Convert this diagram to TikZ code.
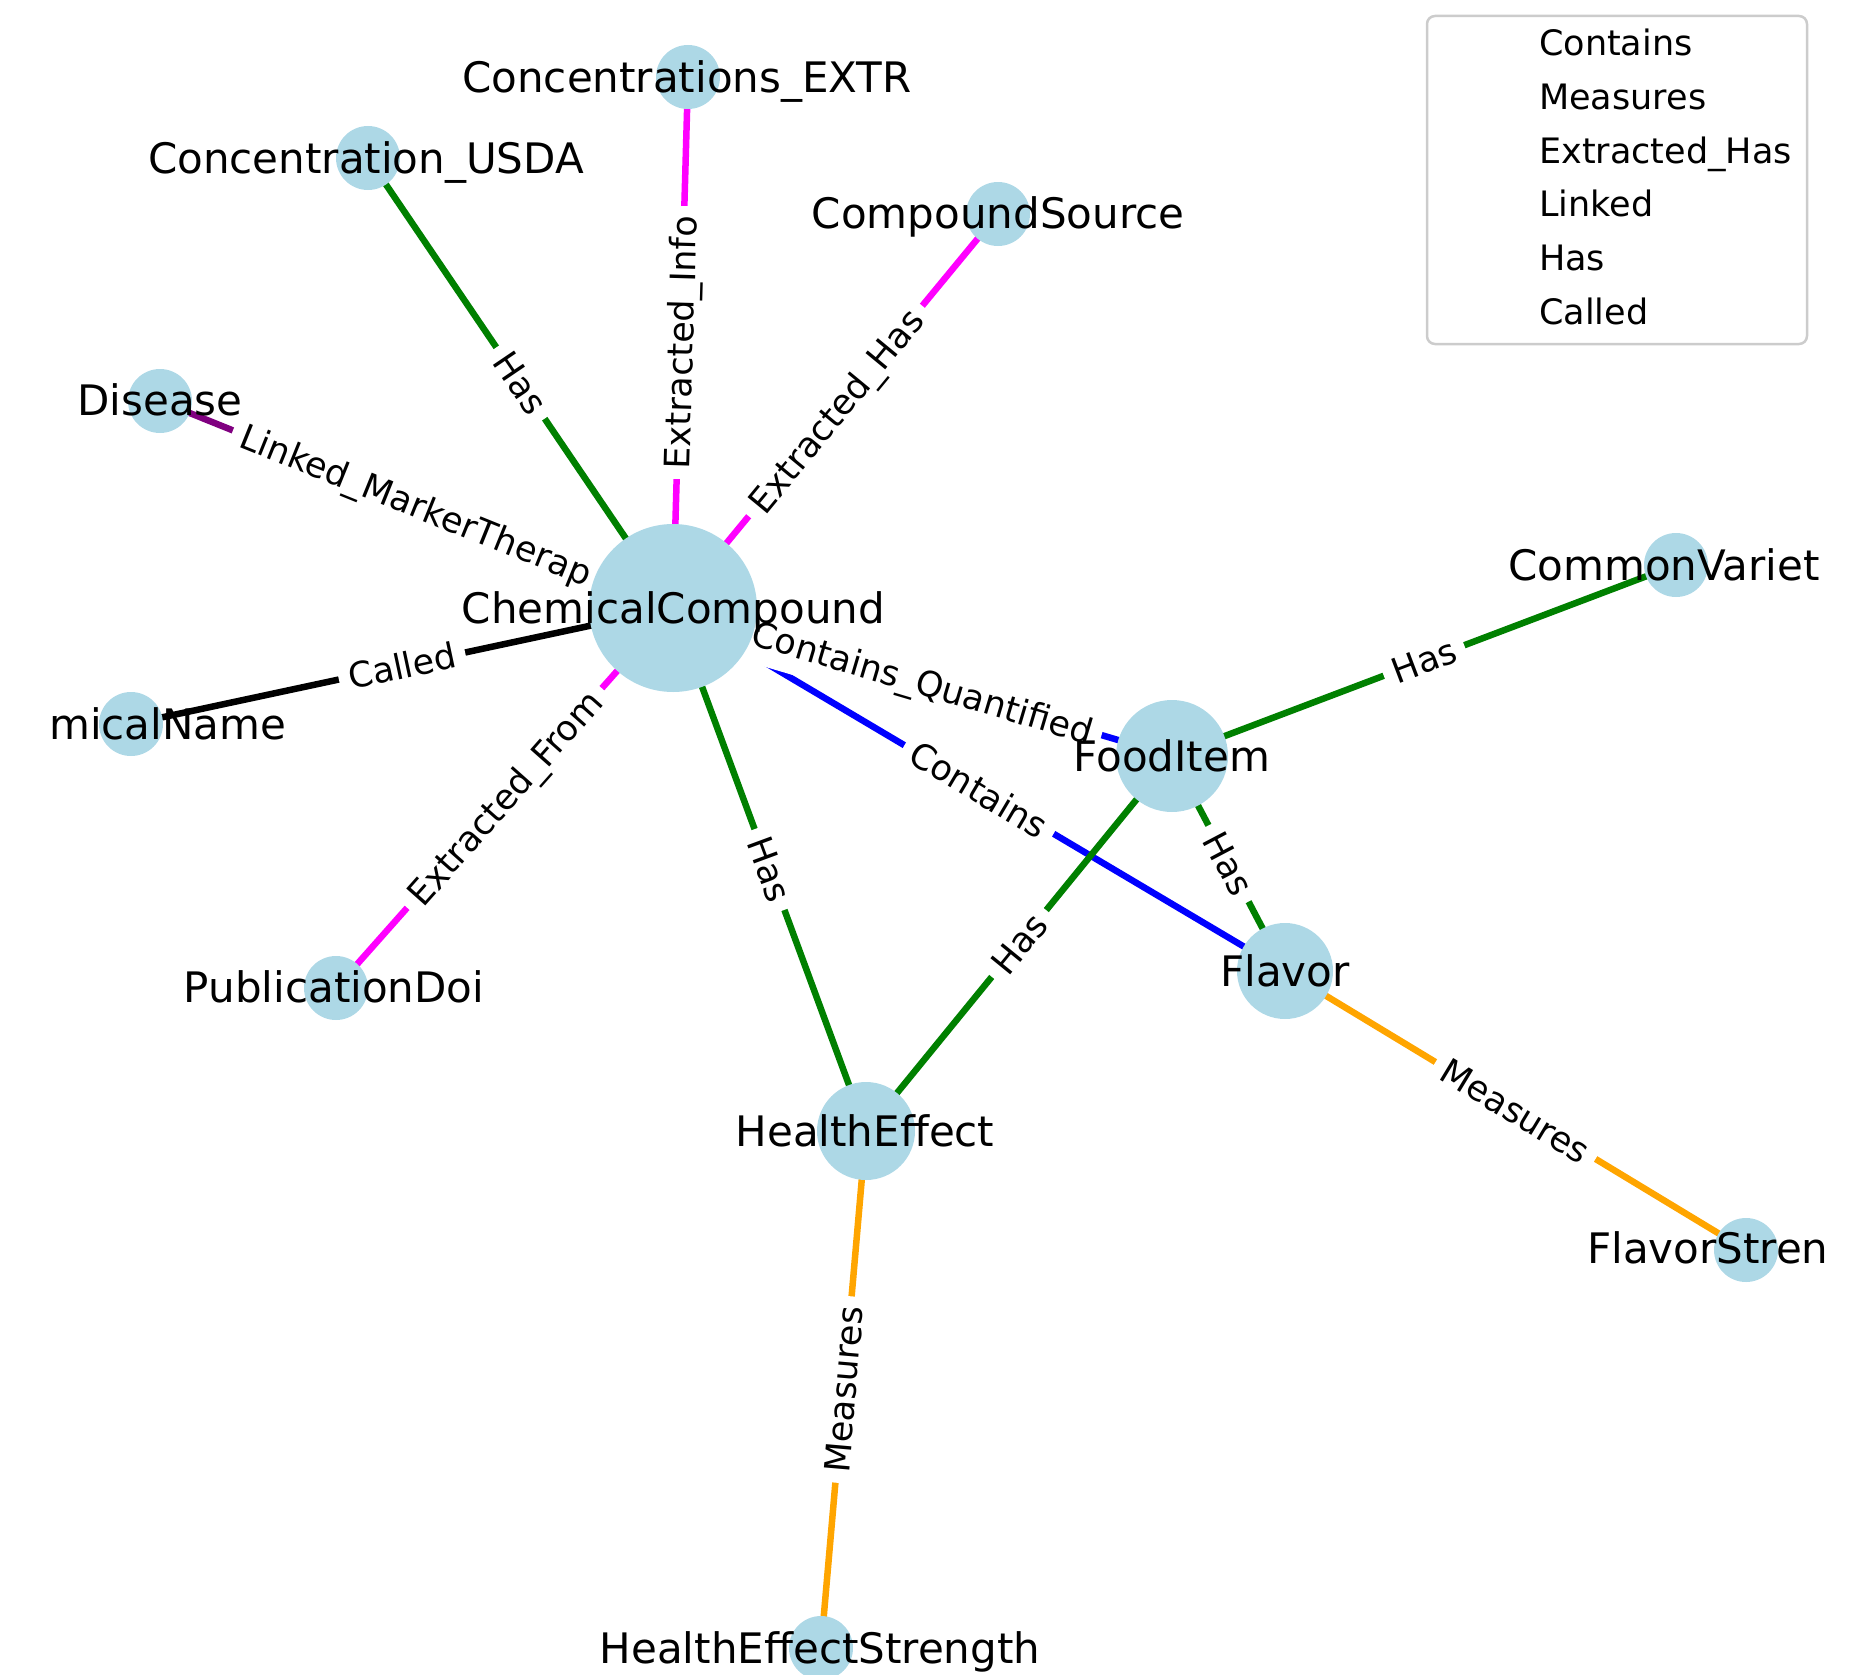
\documentclass[tikz,border=0pt]{standalone}
\usepackage{fontspec}
\setmainfont{DejaVu Sans}
\definecolor{nodeblue}{HTML}{ADD8E6}
\definecolor{relgreen}{HTML}{008000}
\definecolor{relmagenta}{HTML}{FF00FF}
\definecolor{relpurple}{HTML}{800080}
\definecolor{relblue}{HTML}{0000FF}
\definecolor{relorange}{HTML}{FFA500}
\definecolor{legendframe}{HTML}{CCCCCC}
\pgfdeclarelayer{edges}
\pgfdeclarelayer{edgelabels}
\pgfsetlayers{edges,edgelabels,main}
\begin{document}
\begin{tikzpicture}[x=1pt,y=-1pt,
  vtx/.style={circle,fill=nodeblue,draw=none,inner sep=0pt,minimum size=#1},
  nlabel/.style={font=\fontsize{42}{50}\selectfont,inner sep=0pt,
    text height=40.7pt,text depth=10.1pt},
  link/.style={line width=6.5pt},
  elabel/.style={font=\fontsize{35}{42}\selectfont,fill=white,
    rounded corners=9pt,inner xsep=10pt,inner ysep=9pt,
    text height=34pt,text depth=8.4pt,sloped,midway},
  legtext/.style={font=\fontsize{35}{42}\selectfont,anchor=west,
    inner sep=0pt,text height=25.5pt,text depth=0pt}
]
\useasboundingbox (0,0) rectangle (1850,1675);

% vertices
\node[vtx=168] (cc)   at (673,608)  {};
\node[vtx=64]  (extr) at (688,77)   {};
\node[vtx=64]  (usda) at (368,158)  {};
\node[vtx=64]  (src)  at (998,214)  {};
\node[vtx=64]  (dis)  at (160,401)  {};
\node[vtx=64]  (name) at (131,724)  {};
\node[vtx=64]  (doi)  at (336,988)  {};
\node[vtx=98]  (he)   at (866,1131) {};
\node[vtx=64]  (hes)  at (821,1648) {};
\node[vtx=112] (food) at (1172,756) {};
\node[vtx=96]  (flav) at (1285,971) {};
\node[vtx=64]  (var)  at (1676,565) {};
\node[vtx=64]  (fstr) at (1746,1250) {};

% vertex names
\node[nlabel] (cc-t)   at (673.5,608) {ChemicalCompound};
\node[nlabel] (extr-t) at (687,77)    {Concentrations\_EXTR};
\node[nlabel] (usda-t) at (366,158)   {Concentration\_USDA};
\node[nlabel] (src-t)  at (998,213)   {CompoundSource};
\node[nlabel] (dis-t)  at (160,400)   {Disease};
\node[nlabel,anchor=west] (name-t) at (49,724) {micalName};
\node[nlabel] (doi-t)  at (334,987)   {PublicationDoi};
\node[nlabel] (he-t)   at (865,1131)  {HealthEffect};
\node[nlabel] (hes-t)  at (820,1648)  {HealthEffectStrength};
\node[nlabel] (food-t) at (1172,756)  {FoodItem};
\node[nlabel] (flav-t) at (1285,971)  {Flavor};
\node[nlabel,anchor=west] (var-t)  at (1508,565)  {CommonVariet};
\node[nlabel,anchor=west] (fstr-t) at (1587,1248) {FlavorStren};

% relations
\begin{pgfonlayer}{edges}
  \draw[link,relmagenta] (cc.center) -- (extr.center);
  \draw[link,relgreen]   (cc.center) -- (usda.center);
  \draw[link,relmagenta] (cc.center) -- (src.center);
  \draw[link,relpurple]  (cc.center) -- (dis.center);
  \draw[link,black]      (cc.center) -- (name.center);
  \draw[link,relmagenta] (cc.center) -- (doi.center);
  \draw[link,relgreen]   (cc.center) -- (he.center);
  \draw[link,relblue]    (cc.center) -- (food.center);
  \draw[link,relblue]    (cc.center) -- (flav.center);
  \draw[link,relgreen]   (food.center) -- (var.center);
  \draw[link,relgreen]   (food.center) -- (flav.center);
  \draw[link,relgreen]   (food.center) -- (he.center);
  \draw[link,relorange]  (flav.center) -- (fstr.center);
  \draw[link,relorange]  (he.center) -- (hes.center);
\end{pgfonlayer}

% relation names
\begin{pgfonlayer}{edgelabels}
  \path (cc.center) -- (extr.center) node[elabel] (l-extr) {Extracted\_Info};
  \path (cc.center) -- (usda.center) node[elabel] (l-usda) {Has};
  \path (cc.center) -- (src.center)  node[elabel] (l-src)  {Extracted\_Has};
  \path (dis.center) -- (cc.center)  node[elabel] (l-dis)  {Linked\_MarkerTherap};
  \path (name.center) -- (cc.center) node[elabel] (l-name) {Called};
  \path (doi.center) -- (cc.center)  node[elabel] (l-doi)  {Extracted\_From};
  \path (cc.center) -- (he.center)   node[elabel] (l-he)   {Has};
  \path (cc.center) -- (food.center) node[elabel] (l-food) {Contains\_Quantified};
  \path (cc.center) -- (flav.center) node[elabel] (l-flav) {Contains};
  \path (food.center) -- (var.center)  node[elabel] (l-var)  {Has};
  \path (food.center) -- (flav.center) node[elabel] (l-ff)   {Has};
  \path (he.center) -- (food.center)   node[elabel] (l-fh)   {Has};
  \path (flav.center) -- (fstr.center) node[elabel] (l-fstr) {Measures};
  \path (hes.center) -- (he.center)    node[elabel] (l-hes)  {Measures};
\end{pgfonlayer}

% legend
\draw[legendframe,line width=2.5pt,rounded corners=8pt,fill=white]
  (1427,16) rectangle (1807,344);
\node[legtext] (leg1) at (1539,43)    {Contains};
\node[legtext] (leg2) at (1539,96.7)  {Measures};
\node[legtext] (leg3) at (1539,150.4) {Extracted\_Has};
\node[legtext] (leg4) at (1539,204.1) {Linked};
\node[legtext] (leg5) at (1539,257.8) {Has};
\node[legtext] (leg6) at (1539,311.5) {Called};
\end{tikzpicture}
\end{document}
